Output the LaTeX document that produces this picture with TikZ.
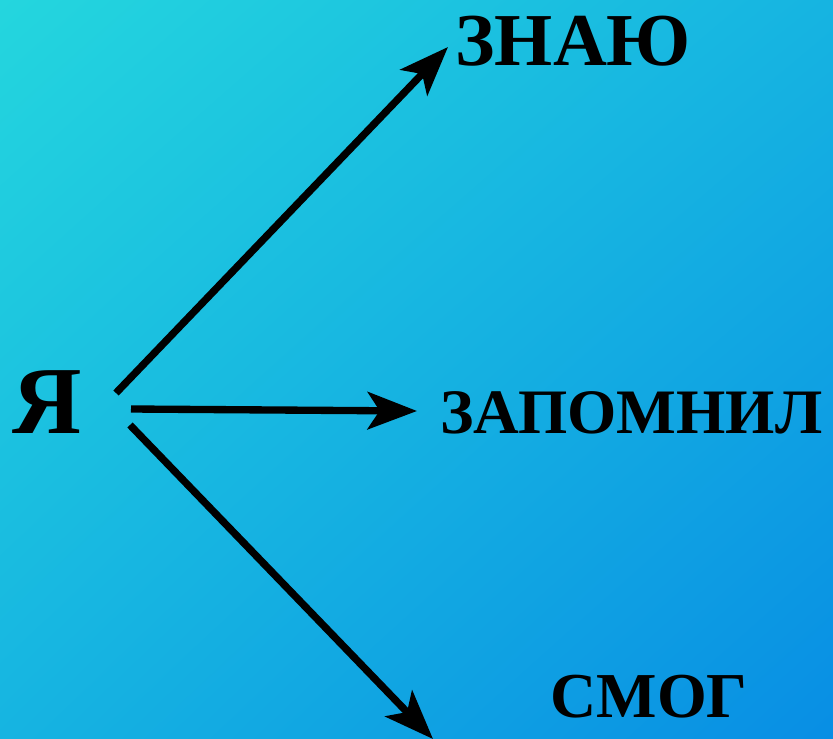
\documentclass[tikz,border=0pt]{standalone}
\usepackage{fontspec}
\setmainfont{Liberation Serif}
\usetikzlibrary{arrows.meta,shadings}

\definecolor{bgTL}{RGB}{36,214,222}
\definecolor{bgMid}{RGB}{22,180,225}
\definecolor{bgBR}{RGB}{8,142,228}

\tikzset{every picture/.style={line width=0.75pt}}
\tikzset{
  word/.style={anchor=base west,inner sep=0pt,font=\bfseries},
  pointer/.style={line width=5.5pt,-{Stealth[length=37pt,width=28pt,inset=9pt]}}
}

\begin{document}
\begin{tikzpicture}[x=0.75pt,y=0.75pt,yscale=-1,xscale=1]
	\useasboundingbox (0,0) rectangle (833,739);

	%Shape: Background
	\shade [upper left=bgTL,upper right=bgMid,lower left=bgMid,lower right=bgBR] (0,0) rectangle (833,739);

	% Text Node
	\node [word,font=\bfseries\fontsize{72}{72}\selectfont] (ya) at (12,433) {Я};
	% Text Node
	\node [word,font=\bfseries\fontsize{56}{56}\selectfont] (znayu) at (455,65) {ЗНАЮ};
	% Text Node
	\node [word,font=\bfseries\fontsize{47.5}{47.5}\selectfont] (zapomnil) at (440,433) {ЗАПОМНИЛ};
	% Text Node
	\node [word,font=\bfseries\fontsize{48}{48}\selectfont] (smog) at (550,717) {СМОГ};

	% Arrow ends
	\coordinate (ya1) at (116,393);
	\coordinate (ya2) at (131,409);
	\coordinate (ya3) at (130,425);
	\coordinate (tip1) at (448,47);
	\coordinate (tip2) at (417,411);
	\coordinate (tip3) at (433,739);

	%Straight Lines
	\draw [pointer] (ya1) -- (tip1) ;
	%Straight Lines
	\draw [pointer] (ya2) -- (tip2) ;
	%Straight Lines
	\draw [pointer] (ya3) -- (tip3) ;

\end{tikzpicture}
\end{document}
